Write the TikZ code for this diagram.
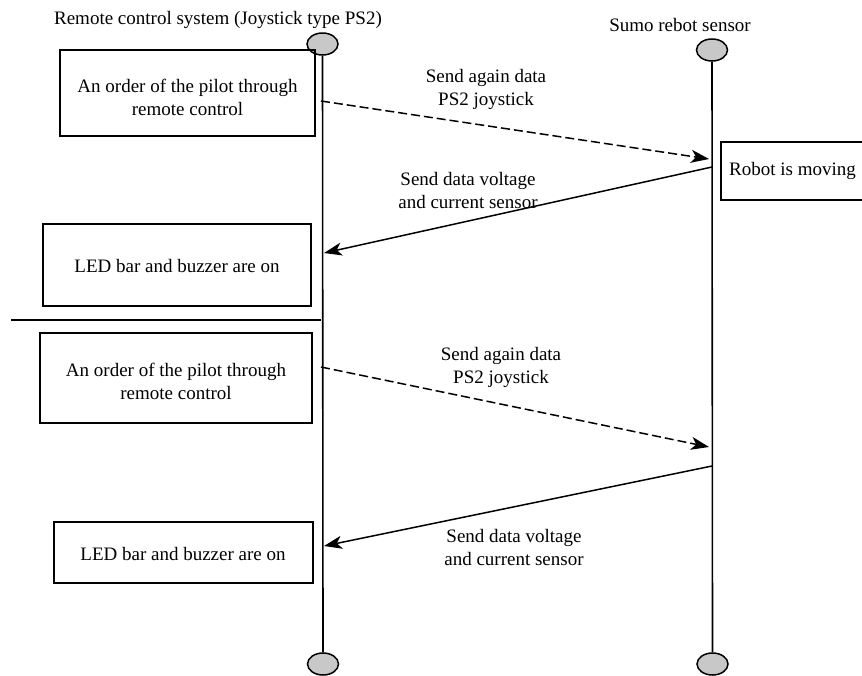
\documentclass[tikz,border=0pt]{standalone}
\usepackage{fontspec}
\setmainfont{Liberation Serif}
\usetikzlibrary{shapes.geometric,arrows.meta}
\begin{document}
\begin{tikzpicture}[x=1pt,y=-1pt,
  every node/.style={font=\fontsize{19}{23}\selectfont},
  txt/.style={align=center,inner sep=0pt},
  box/.style={draw,line width=1.8pt},
  life/.style={line width=1.6pt},
  blob/.style={ellipse,draw,line width=1.5pt,fill={rgb,255:red,200;green,200;blue,200},minimum width=31pt,minimum height=22pt,inner sep=0pt},
  msg/.style={line width=1.5pt,-{Stealth[length=18pt,width=13pt,inset=5pt]}},
  dmsg/.style={msg,dash pattern=on 9pt off 4pt}]
\useasboundingbox (0,0) rectangle (862,675);
% titles
\node[txt] (t1) at (218,20) {Remote control system (Joystick type PS2)};
\node[txt] (t2) at (680,25) {Sumo rebot sensor};
% lifeline ends
\node[blob] (lt) at (322.5,44) {};
\node[blob] (rt) at (712,50) {};
\node[blob] (lb) at (323,664) {};
\node[blob] (rb) at (712.5,664) {};
\draw[life] (lt.south) -- (lb.north);
\draw[life] (rt.south) -- (rb.north);
% boxes
\draw[box] (60,50) rectangle (315,136);
\node[txt] (b1) at (187.5,97) {An order of the pilot through\\remote control};
\draw[box] (721,142) rectangle (880,200);
\node[txt,anchor=west] (b2) at (729,171) {Robot is moving};
\draw[box] (43,224) rectangle (311,306);
\node[txt] (b3) at (177,266) {LED bar and buzzer are on};
\draw[line width=1.8pt] (11,320) -- (321,320);
\draw[box] (40,333) rectangle (312,423);
\node[txt] (b4) at (176,381) {An order of the pilot through\\remote control};
\draw[box] (54,522) rectangle (313,583);
\node[txt] (b5) at (183,554) {LED bar and buzzer are on};
% message endpoints
\coordinate (m1s) at (321,101);
\coordinate (m1e) at (709,159);
\coordinate (m2s) at (712,167);
\coordinate (m2e) at (324,253);
\coordinate (m3s) at (321,367);
\coordinate (m3e) at (709,447);
\coordinate (m4s) at (712,466);
\coordinate (m4e) at (324,546);
\draw[dmsg] (m1s) -- (m1e);
\draw[msg] (m2s) -- (m2e);
\draw[dmsg] (m3s) -- (m3e);
\draw[msg] (m4s) -- (m4e);
% labels
\node[txt] (l1) at (486,89) {Send again data\\PS2 joystick};
\node[txt] (l2) at (468,190) {Send data voltage\\and current sensor};
\node[txt] (l3) at (501,367) {Send again data\\PS2 joystick};
\node[txt] (l4) at (514,547) {Send data voltage\\and current sensor};
\end{tikzpicture}
\end{document}
